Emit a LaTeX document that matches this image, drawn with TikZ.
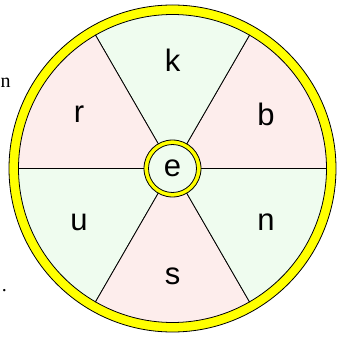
\documentclass[tikz,border=0pt]{standalone}
\usepackage{fontspec}
\setmainfont{Liberation Serif}
\setsansfont{Liberation Sans}
\definecolor{wheelpink}{HTML}{FDEDEC}
\definecolor{wheelgreen}{HTML}{EFFCEF}
\definecolor{rimyellow}{HTML}{FFFF00}

\begin{document}
\begin{tikzpicture}[x=1pt, y=1pt,
    rim/.style={draw=black, line width=0.8pt, fill=rimyellow},
    sector/.style={draw=black, line width=0.8pt},
    letter/.style={font=\sffamily\fontsize{31}{31}\selectfont, inner sep=0pt},
    stray/.style={font=\rmfamily\fontsize{20}{20}\selectfont, inner sep=0pt}
  ]
    \useasboundingbox (-172.5,-168.5) rectangle (169.5,168.5);

    % outer rim
    \draw[rim] (0,0) circle (163.5);

    % six sectors with their letters
    \foreach \a/\c/\t in {0/wheelpink/b, 60/wheelgreen/k, 120/wheelpink/r,
                          180/wheelgreen/u, 240/wheelpink/s, 300/wheelgreen/n}{
      \draw[sector, fill=\c] (0,0) -- (\a:154) arc (\a:\a+60:154) -- cycle;
      \node[letter] (sec-\t) at (\a+30:108) {\t};
    }

    % hub
    \draw[rim] (0,0) circle (28.5);
    \draw[sector, fill=wheelgreen] (0,0) circle (24);
    \node[letter] (hub) at (0,0) {e};

    % text at the left edge
    \node[stray, anchor=base west] (frag-n) at (-172,80.5) {n};
    \node[stray] (frag-dot) at (-168,-122) {.};
\end{tikzpicture}
\end{document}
